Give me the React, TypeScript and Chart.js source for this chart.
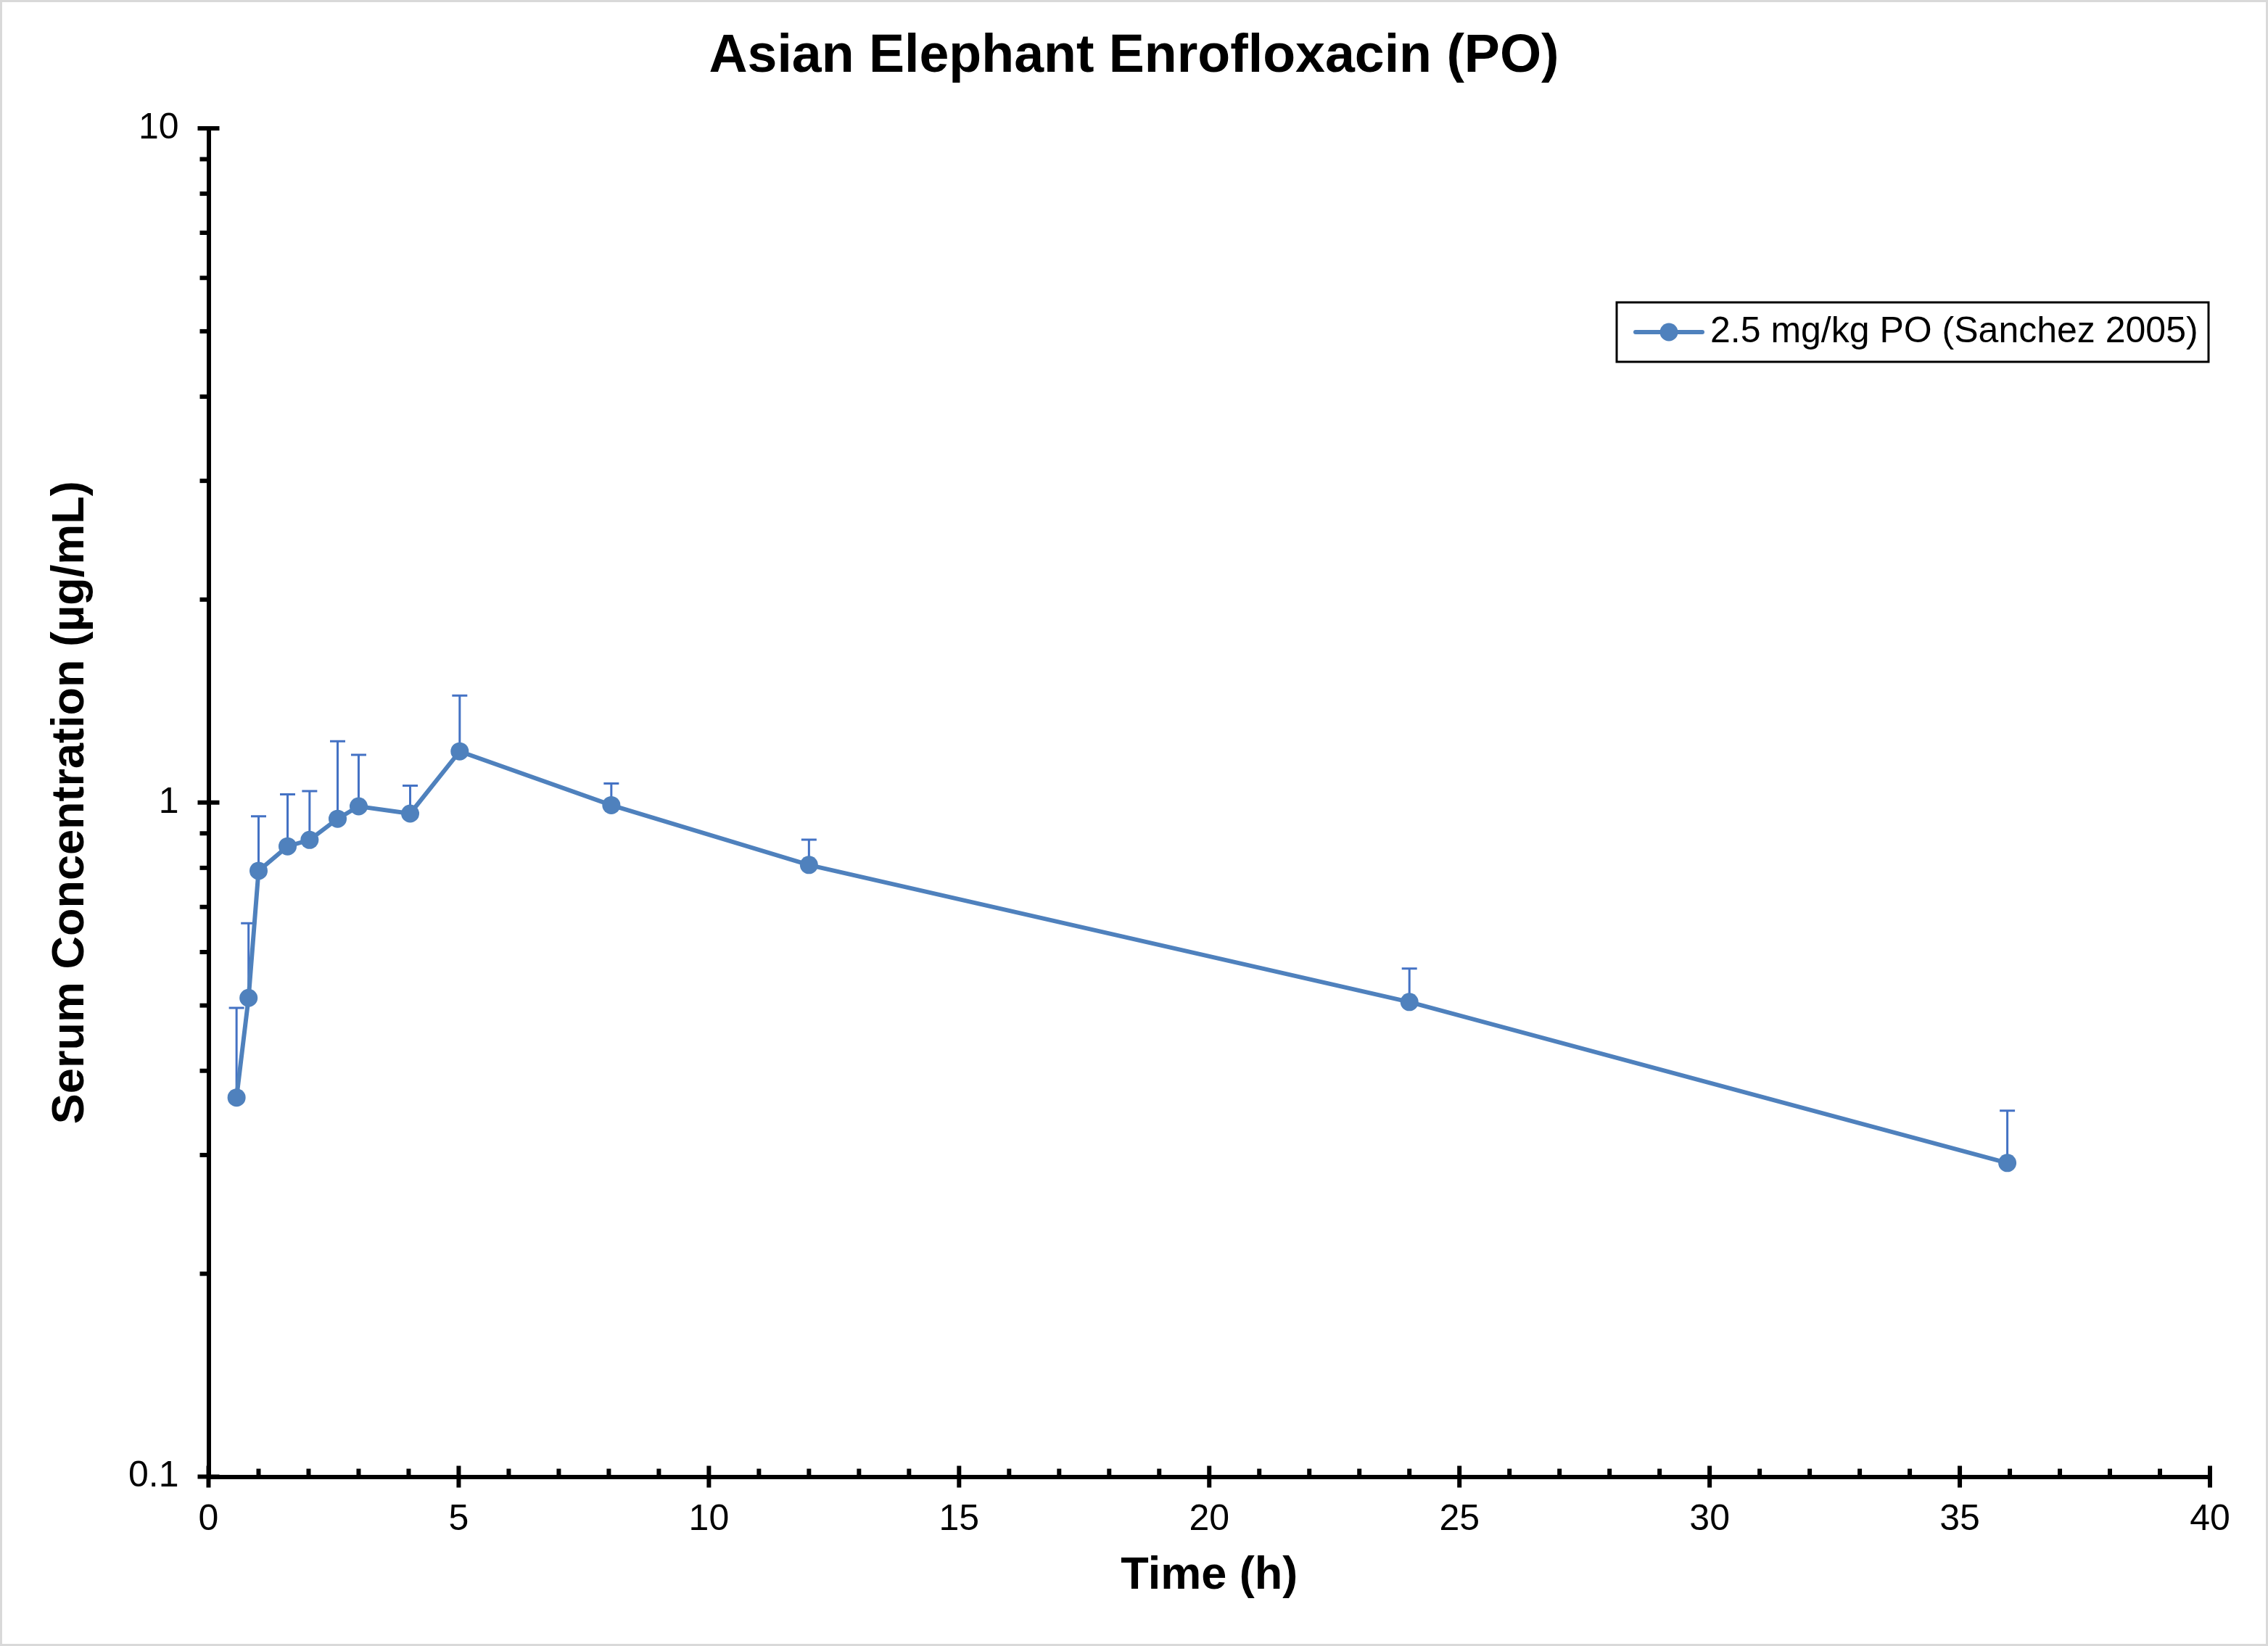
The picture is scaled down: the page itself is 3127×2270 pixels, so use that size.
import React, { useEffect, useRef } from 'react';
import { Chart, registerables } from 'chart.js';

Chart.register(...registerables);

// ---- data ----
const timesH = [0.56, 0.8, 1, 1.58, 2.02, 2.58, 3, 4.03, 5.02, 8.05, 12, 24, 35.95];
const meanConc = [0.365, 0.513, 0.792, 0.861, 0.880, 0.946, 0.987, 0.963, 1.191, 0.991, 0.808, 0.506, 0.292];
const sdConc = [0.131, 0.149, 0.162, 0.167, 0.160, 0.287, 0.190, 0.096, 0.250, 0.076, 0.073, 0.061, 0.057];

const seriesLabel = '2.5 mg/kg PO (Sanchez 2005)';
const chartTitle = 'Asian Elephant Enrofloxacin (PO)';
const xAxisTitle = 'Time (h)';
const yAxisTitle = 'Serum Concentration (µg/mL)';

const xRange = [0, 40];
const xMajorStep = 5;
const xMinorStep = 1;
const yRange = [0.1, 10];
const yMajorTicks = [0.1, 1, 10];
const yMinorMultipliers = [2, 3, 4, 5, 6, 7, 8, 9];

const FONT = "'Liberation Sans', Arial, Helvetica, sans-serif";
const LINE_COLOR = '#4F81BD';
const ERR_COLOR = '#4472C4';

const W = 3127;
const H = 2270;

const backgroundPlugin = {
  id: 'bgFrame',
  beforeDraw(chart: any) {
    const { ctx } = chart;
    ctx.save();
    ctx.fillStyle = '#ffffff';
    ctx.fillRect(0, 0, chart.width, chart.height);
    ctx.restore();
  },
  afterDraw(chart: any) {
    const { ctx } = chart;
    ctx.save();
    ctx.strokeStyle = '#D9D9D9';
    ctx.lineWidth = 3;
    ctx.strokeRect(1.5, 1.5, chart.width - 3, chart.height - 3);
    ctx.restore();
  },
};

const errorBarPlugin = {
  id: 'errorBars',
  beforeDatasetsDraw(chart: any) {
    const { ctx } = chart;
    const xs = chart.scales.x;
    const ys = chart.scales.y;
    ctx.save();
    ctx.strokeStyle = ERR_COLOR;
    ctx.lineWidth = 3;
    ctx.lineCap = 'butt';
    for (let i = 0; i < timesH.length; i++) {
      const x = xs.getPixelForValue(timesH[i]);
      const y0 = ys.getPixelForValue(meanConc[i]);
      const y1 = ys.getPixelForValue(meanConc[i] + sdConc[i]);
      ctx.beginPath();
      ctx.moveTo(x, y0);
      ctx.lineTo(x, y1);
      ctx.moveTo(x - 10.5, y1);
      ctx.lineTo(x + 10.5, y1);
      ctx.stroke();
    }
    ctx.restore();
  },
};

const tickMarksPlugin = {
  id: 'tickMarks',
  afterDraw(chart: any) {
    const { ctx, chartArea } = chart;
    const xs = chart.scales.x;
    const ys = chart.scales.y;
    const axX = chartArea.left;
    const axY = chartArea.bottom;
    ctx.save();
    ctx.strokeStyle = '#000';
    ctx.lineWidth = 6;
    ctx.lineCap = 'butt';
    for (const v of yMajorTicks) {
      const y = ys.getPixelForValue(v);
      ctx.beginPath();
      ctx.moveTo(axX - 15, y);
      ctx.lineTo(axX + 15, y);
      ctx.stroke();
    }
    for (let d = 0; d < yMajorTicks.length - 1; d++) {
      for (const m of yMinorMultipliers) {
        const y = ys.getPixelForValue(yMajorTicks[d] * m);
        ctx.beginPath();
        ctx.moveTo(axX - 12, y);
        ctx.lineTo(axX, y);
        ctx.stroke();
      }
    }
    for (let v = xRange[0]; v <= xRange[1] + 1e-9; v += xMinorStep) {
      const x = xs.getPixelForValue(v);
      ctx.beginPath();
      if (Math.abs(v % xMajorStep) < 1e-9) {
        ctx.moveTo(x, axY - 15);
        ctx.lineTo(x, axY + 15);
      } else {
        ctx.moveTo(x, axY - 11);
        ctx.lineTo(x, axY);
      }
      ctx.stroke();
    }
    ctx.restore();
  },
};

const legendBoxPlugin = {
  id: 'legendBox',
  afterDraw(chart: any) {
    const { ctx, chartArea } = chart;
    const ds = chart.data.datasets[0];
    const right = chartArea.right - 2;
    const top = chartArea.top + 240;
    const w = 816;
    const h = 82;
    const left = right - w;
    ctx.save();
    ctx.fillStyle = '#fff';
    ctx.fillRect(left, top, w, h);
    ctx.strokeStyle = '#000';
    ctx.lineWidth = 3;
    ctx.strokeRect(left, top, w, h);
    const cy = top + h / 2;
    ctx.strokeStyle = ds.borderColor;
    ctx.lineWidth = 6;
    ctx.lineCap = 'round';
    ctx.beginPath();
    ctx.moveTo(left + 26, cy);
    ctx.lineTo(left + 118, cy);
    ctx.stroke();
    ctx.fillStyle = ds.pointBackgroundColor;
    ctx.beginPath();
    ctx.arc(left + 72, cy, 12.5, 0, Math.PI * 2);
    ctx.fill();
    ctx.fillStyle = '#000';
    ctx.font = `50px ${FONT}`;
    ctx.textAlign = 'left';
    ctx.textBaseline = 'middle';
    ctx.fillText(ds.label, left + 129, cy);
    ctx.restore();
  },
};

export default function App() {
  const canvasRef = useRef<HTMLCanvasElement | null>(null);

  useEffect(() => {
    const canvas = canvasRef.current;
    if (!canvas) return;
    const chart = new Chart(canvas, {
      type: 'line',
      data: {
        datasets: [
          {
            label: seriesLabel,
            data: timesH.map((t, i) => ({ x: t, y: meanConc[i] })),
            borderColor: LINE_COLOR,
            backgroundColor: LINE_COLOR,
            borderWidth: 6,
            pointRadius: 12.5,
            pointHoverRadius: 12.5,
            pointBackgroundColor: LINE_COLOR,
            pointBorderWidth: 0,
            tension: 0,
            fill: false,
            clip: false,
          },
        ],
      },
      options: {
        animation: false,
        responsive: false,
        devicePixelRatio: 1,
        events: [],
        layout: { padding: 0 },
        plugins: {
          legend: { display: false },
          tooltip: { enabled: false },
          title: {
            display: true,
            text: chartTitle,
            color: '#000',
            font: { family: FONT, size: 73.5, weight: 'bold' },
            padding: { top: 35, bottom: 53.8 },
          },
        },
        scales: {
          x: {
            type: 'linear',
            position: 'bottom',
            min: xRange[0],
            max: xRange[1],
            afterFit: (s: any) => {
              s.height = 233.5;
            },
            ticks: {
              stepSize: xMajorStep,
              autoSkip: false,
              maxRotation: 0,
              color: '#000',
              padding: 29.5,
              font: { family: FONT, size: 50 },
            },
            grid: { display: false, drawTicks: false },
            border: { display: true, color: '#000', width: 6 },
            title: {
              display: true,
              text: xAxisTitle,
              color: '#000',
              font: { family: FONT, size: 63, weight: 'bold' },
              padding: { top: 0, bottom: 58.2 },
            },
          },
          y: {
            type: 'logarithmic',
            position: 'left',
            min: yRange[0],
            max: yRange[1],
            afterFit: (s: any) => {
              s.width = 287.5;
            },
            afterBuildTicks: (s: any) => {
              s.ticks = yMajorTicks.map((v) => ({ value: v, major: true }));
            },
            ticks: {
              autoSkip: false,
              color: '#000',
              padding: 41,
              font: { family: FONT, size: 50 },
              callback: (v: any) => String(v),
            },
            grid: { display: false, drawTicks: false },
            border: { display: true, color: '#000', width: 6 },
            title: {
              display: true,
              text: yAxisTitle,
              color: '#000',
              font: { family: FONT, size: 63, weight: 'bold' },
              padding: { top: 59.9, bottom: 0 },
            },
          },
          yRight: {
            type: 'linear',
            position: 'right',
            display: true,
            afterFit: (s: any) => {
              s.width = 80;
            },
            ticks: { display: false },
            grid: { display: false, drawTicks: false },
            border: { display: false },
          },
        },
      },
      plugins: [backgroundPlugin, errorBarPlugin, tickMarksPlugin, legendBoxPlugin],
    } as any);
    return () => chart.destroy();
  }, []);

  return (
    <div style={{ position: 'absolute', left: 0, top: 0, width: W, height: H }}>
      <canvas ref={canvasRef} width={W} height={H} style={{ width: W, height: H, display: 'block' }} />
    </div>
  );
}
